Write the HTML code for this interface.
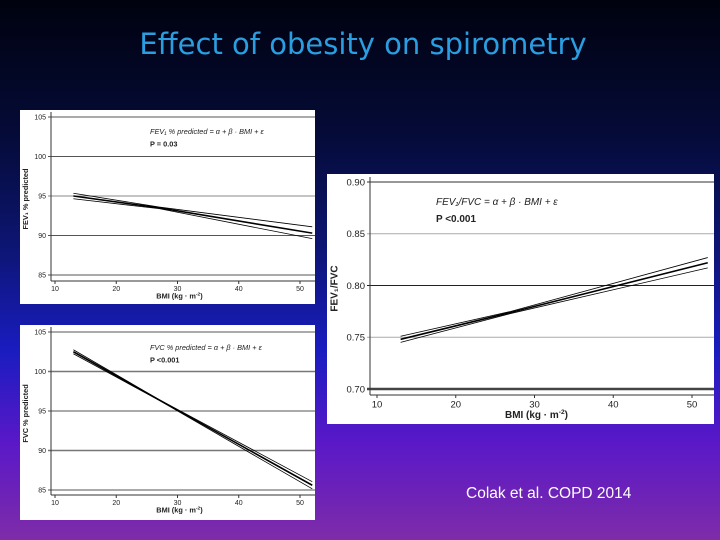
<!DOCTYPE html>
<html><head><meta charset="utf-8"><style>
html,body{margin:0;padding:0}
body{width:720px;height:540px;overflow:hidden;position:relative;font-family:"Liberation Sans",sans-serif;
background:linear-gradient(to bottom,#00020e 0%,#050b38 25%,#0c1570 45%,#1a1cc0 65%,#5a18c8 82%,#7e2ca8 100%)}
#title{position:absolute;left:0;width:726px;top:27px;text-align:center;color:#2a9ee0;font-size:29px;font-family:"DejaVu Sans","Liberation Sans",sans-serif;font-weight:normal;letter-spacing:0px}
#cite{position:absolute;left:466px;top:485px;color:#fff;font-size:15.5px}
svg{position:absolute;left:0;top:0}
</style></head><body>
<div id="title">Effect of obesity on spirometry</div>
<div id="cite">Colak et al. COPD 2014</div>
<svg id="s" width="720" height="540"></svg>
<script>
// Panel A: FEV1 % predicted
const xTicks=[10,20,30,40,50];
const fevX=[13,27,52];
const fevMid=[95.0,93.5,90.3];
const fevUp=[95.35,93.6,91.1];
const fevLo=[94.65,93.4,89.6];
const fevYTicks=[85,90,95,100,105];
// Panel B: FEV1/FVC
const ratioX=[13,27,52];
const ratioMid=[0.748,0.774,0.822];
const ratioUp=[0.751,0.775,0.827];
const ratioLo=[0.745,0.773,0.817];
const ratioYTicks=["0.70","0.75","0.80","0.85","0.90"];
// Panel C: FVC % predicted
const fvcX=[13,27,52];
const fvcMid=[102.5,96.4,85.6];
const fvcUp=[102.75,96.45,86.05];
const fvcLo=[102.25,96.35,85.15];
const fvcYTicks=[85,90,95,100,105];

const NS="http://www.w3.org/2000/svg";
const svg=document.getElementById('s');
function mk(tag,attrs,parent){const e=document.createElementNS(NS,tag);for(const k in attrs)e.setAttribute(k,attrs[k]);(parent||svg).appendChild(e);return e;}

function panel(o){
  const g=mk('g',{});
  
  
  const bg=mk('rect',{x:o.px,y:o.py,width:o.pw,height:o.ph,fill:'#fff'},g);
  
  
  const yv=o.yticks.map(Number);
  const ymin=yv[0],ymax=yv[yv.length-1];
  const sx=v=>o.x10+(v-10)*(o.x50-o.x10)/40;
  const sy=v=>o.yBot+(v-ymin)*(o.yTop-o.yBot)/(ymax-ymin);
  const right=o.px+o.pw;
  o.yticks.forEach((t,i)=>{
    const y=sy(Number(t));
    const l=mk('line',{x1:o.ax-3,x2:right,y1:y,y2:y,stroke:o.gridCol[i]||'#777','stroke-width':o.gridW[i]||1},g);
    
    
    const tx=mk('text',{x:o.ax-5,y:y+o.fs*0.35,'font-size':o.fs,'text-anchor':'end',fill:'#222'},g);
    tx.textContent=t;
    
    
  });
  const ya=mk('line',{x1:o.ax,x2:o.ax,y1:o.yTop-5,y2:o.axY,stroke:'#333','stroke-width':1},g);
  
  
  const xa=mk('line',{x1:o.ax,x2:right,y1:o.axY,y2:o.axY,stroke:'#333','stroke-width':1},g);
  
  
  xTicks.forEach(t=>{
    const x=sx(t);
    const tk=mk('line',{x1:x,x2:x,y1:o.axY,y2:o.axY+3,stroke:'#333'},g);
    
    
    const tx=mk('text',{x:x,y:o.axY+3+o.fs,'font-size':o.fs,'text-anchor':'middle',fill:'#222'},g);
    tx.textContent=t;
    
    
  });
  const xt=mk('text',{x:(o.x10+o.x50)/2+2,y:o.axY+o.fs*2.2+2,'font-size':o.fs*1.05,'text-anchor':'middle','font-weight':'bold',fill:'#222'},g);
  xt.innerHTML='BMI (kg · m<tspan font-size="'+(o.fs*0.7)+'" dy="-'+(o.fs*0.4)+'">-2</tspan><tspan dy="'+(o.fs*0.4)+'">)</tspan>';
  
  
  const cy=(o.yTop+o.axY)/2;
  const ytl=mk('text',{x:0,y:0,'font-size':o.fs*1.05,'text-anchor':'middle','font-weight':'bold',fill:'#222',transform:'translate('+(o.px+o.fs+1)+','+cy+') rotate(-90)'},g);
  ytl.textContent=o.ytitle;
  
  
  const eq=mk('text',{x:o.eqx,y:o.eqy,'font-size':o.fs*1.05,'font-style':'italic',fill:'#222'},g);
  eq.textContent=o.eq;
  
  
  const p=mk('text',{x:o.eqx,y:o.eqy+o.fs*1.8,'font-size':o.fs*1.05,'font-weight':'bold',fill:'#222'},g);
  p.textContent=o.p;
  
  
  [[o.lo,0.8,'ci-lower-line'],[o.up,0.8,'ci-upper-line'],[o.mid,1.6,'regression-line']].forEach(([arr,w,nm])=>{
    const pts=o.xs.map((x,i)=>sx(x)+','+sy(arr[i])).join(' ');
    const l=mk('polyline',{points:pts,fill:'none',stroke:'#000','stroke-width':w},g);
    
    
  });
}
panel({name:'fev1-chart',px:20,py:110,pw:295,ph:194,ax:51,axY:281,x10:55,x50:300,yTop:117,yBot:275,
  yticks:fevYTicks,xs:fevX,mid:fevMid,up:fevUp,lo:fevLo,fs:7,ytitle:'FEV₁ % predicted',
  eq:'FEV₁ % predicted = α + β · BMI + ε',p:'P = 0.03',eqx:150,eqy:134,
  gridCol:['#555','#555','#888','#555','#555'],gridW:[1,1,1,1,1]});
panel({name:'fev1-fvc-chart',px:327,py:174,pw:387,ph:250,ax:370,axY:395,x10:377,x50:692,yTop:182,yBot:389,
  yticks:ratioYTicks,xs:ratioX,mid:ratioMid,up:ratioUp,lo:ratioLo,fs:9.5,ytitle:'FEV₁/FVC',
  eq:'FEV₁/FVC = α + β · BMI + ε',p:'P <0.001',eqx:436,eqy:205,
  gridCol:['#444','#aaa','#222','#aaa','#777'],gridW:[2.5,1,1,1,1.5]});
panel({name:'fvc-chart',px:20,py:325,pw:295,ph:195,ax:51,axY:495,x10:55,x50:300,yTop:332,yBot:490,
  yticks:fvcYTicks,xs:fvcX,mid:fvcMid,up:fvcUp,lo:fvcLo,fs:7,ytitle:'FVC % predicted',
  eq:'FVC % predicted = α + β · BMI + ε',p:'P <0.001',eqx:150,eqy:350,
  gridCol:['#555','#777','#555','#777','#555'],gridW:[1,1.5,1,1.5,1]});
</script>
</body></html>
